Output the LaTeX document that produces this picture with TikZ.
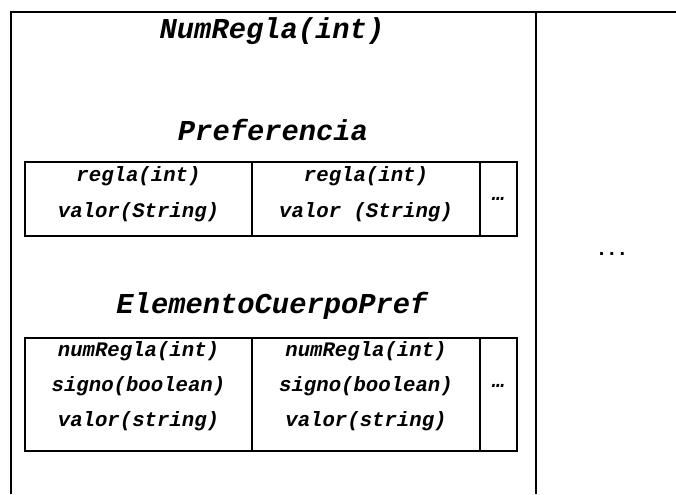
\documentclass[tikz,border=0pt]{standalone}
\usepackage{fontspec}
\setmainfont{Liberation Sans}
\newfontfamily\cour{Liberation Mono}
\begin{document}
\begin{tikzpicture}[x=0.75pt,y=-0.75pt,
  frame/.style={line width=1.6pt},
  title/.style={font=\cour\bfseries\itshape\fontsize{21.6}{24}\selectfont, inner sep=0pt, anchor=center},
  cell/.style={font=\cour\bfseries\itshape\fontsize{15.5}{18}\selectfont, inner sep=0pt, anchor=center},
  more/.style={font=\bfseries\fontsize{15}{16}\selectfont, inner sep=0pt, anchor=center}]
\useasboundingbox (0,0) rectangle (676,494);
% outer frame
\draw[frame] (11,494) -- (11,12) -- (676,12);
\draw[frame] (536,12) -- (536,494);
% titles
\node[title] (t1) at (272,31) {NumRegla(int)};
\node[title] (t2) at (273,130) {Preferencia};
\node[title] (t3) at (272,306) {ElementoCuerpoPref};
% Preferencia table
\draw[frame] (25,162) rectangle (517,236);
\draw[frame] (252,162) -- (252,236);
\draw[frame] (480,162) -- (480,236);
\node[cell] (p11) at (138.5,176) {regla(int)};
\node[cell] (p12) at (138.5,212) {valor(String)};
\node[cell] (p21) at (366,176) {regla(int)};
\node[cell] (p22) at (366,212) {valor (String)};
\node[cell] (p3) at (498.5,199) {…};
% ElementoCuerpoPref table
\draw[frame] (25,338) rectangle (517,451);
\draw[frame] (252,338) -- (252,451);
\draw[frame] (480,338) -- (480,451);
\node[cell] (e11) at (138.5,351) {numRegla(int)};
\node[cell] (e12) at (138.5,386) {signo(boolean)};
\node[cell] (e13) at (138.5,421) {valor(string)};
\node[cell] (e21) at (366,351) {numRegla(int)};
\node[cell] (e22) at (366,386) {signo(boolean)};
\node[cell] (e23) at (366,421) {valor(string)};
\node[cell] (e3) at (498.5,386) {…};
% right dots
\node[more] (r) at (612,254) {.\hspace{3.6pt}.\hspace{3.6pt}.};
\end{tikzpicture}
\end{document}
